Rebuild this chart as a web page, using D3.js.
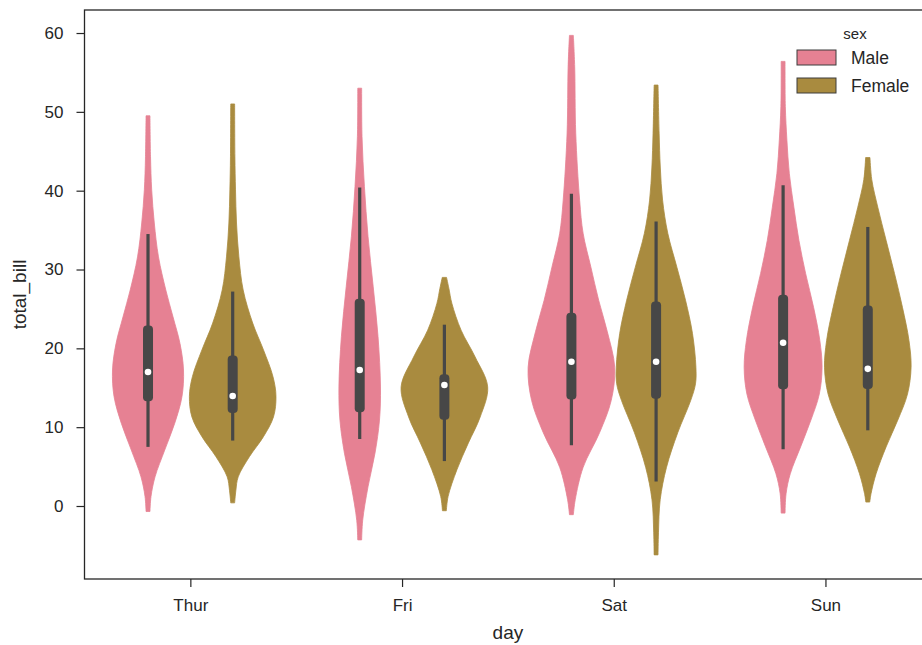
<!DOCTYPE html>
<html>
<head>
<meta charset="utf-8">
<script src="https://cdn.jsdelivr.net/npm/d3@7"></script>
<style>
  html, body { margin: 0; padding: 0; background: #fff; }
  svg { display: block; }
  text { font-family: "Liberation Sans", Arial, sans-serif; fill: #262626; }
</style>
</head>
<body>
<div id="chart"></div>
<script>
// ---------------- data ----------------
const days = ["Thur", "Fri", "Sat", "Sun"];
const sexes = ["Male", "Female"];
const yTicks = [0, 10, 20, 30, 40, 50, 60];

// violin profiles: [total_bill, relative density]
const thurMale = [[49.5,0.045],[44.3,0.058],[40.1,0.085],[35.9,0.145],[31.6,0.242],[27.4,0.411],[24.0,0.577],[20.6,0.739],[17.25,0.82],[13.9,0.785],[10.5,0.617],[7.1,0.386],[3.7,0.162],[1.2,0.069],[-0.7,0.045]];
const thurFemale = [[51.0,0.045],[44.3,0.051],[40.1,0.065],[35.9,0.088],[31.6,0.143],[27.4,0.242],[23.2,0.462],[19.8,0.711],[16.4,0.931],[13.9,1.0],[11.3,0.942],[8.8,0.711],[6.25,0.386],[3.7,0.127],[2.0,0.074],[0.4,0.045]];
const friMale = [[53.0,0.045],[46.9,0.053],[40.5,0.109],[34.2,0.192],[27.8,0.312],[21.5,0.423],[15.1,0.48],[10.9,0.457],[6.7,0.353],[2.45,0.192],[-1.8,0.069],[-4.3,0.045]];
const friFemale = [[29.0,0.05],[27.6,0.104],[25.7,0.173],[22.3,0.386],[18.9,0.711],[15.1,1.0],[11.3,0.827],[8.0,0.554],[4.6,0.289],[1.2,0.085],[-0.6,0.045]];
const satMale = [[59.7,0.045],[55.7,0.076],[47.3,0.1],[38.8,0.19],[34.6,0.27],[30.3,0.45],[26.1,0.63],[22.1,0.83],[17.6,1.0],[13.4,0.92],[9.3,0.65],[4.9,0.27],[0.8,0.088],[-1.1,0.045]];
const satFemale = [[53.4,0.045],[47.3,0.07],[43.0,0.097],[38.8,0.15],[34.6,0.27],[30.3,0.48],[26.1,0.68],[21.9,0.84],[17.6,0.92],[15.5,0.91],[13.4,0.8],[9.3,0.5],[4.9,0.24],[0.8,0.095],[-3.4,0.055],[-6.2,0.045]];
const sunMale = [[56.4,0.045],[50.7,0.051],[46.4,0.088],[42.2,0.143],[37.9,0.249],[33.7,0.365],[29.5,0.52],[25.2,0.704],[21.0,0.848],[17.6,0.9],[14.2,0.836],[10.9,0.642],[7.5,0.404],[4.1,0.166],[1.6,0.069],[-0.9,0.045]];
const sunFemale = [[44.2,0.05],[41.4,0.092],[37.9,0.231],[33.7,0.423],[29.5,0.617],[25.2,0.801],[21.0,0.951],[17.6,1.0],[14.2,0.917],[10.9,0.693],[7.5,0.423],[4.1,0.192],[1.6,0.076],[0.5,0.045]];

// inner boxes: [whisker low, q1, median, q3, whisker high]
const boxThurMale   = [7.5, 13.3, 17.0, 22.9, 34.5];
const boxThurFemale = [8.3, 11.8, 13.95, 19.1, 27.2];
const boxFriMale    = [8.5, 11.9, 17.25, 26.3, 40.4];
const boxFriFemale  = [5.7, 10.95, 15.35, 16.7, 23.0];
const boxSatMale    = [7.7, 13.5, 18.3, 24.5, 39.6];
const boxSatFemale  = [3.1, 13.6, 18.3, 25.95, 36.1];
const boxSunMale    = [7.2, 14.8, 20.7, 26.8, 40.7];
const boxSunFemale  = [9.6, 14.85, 17.4, 25.45, 35.4];

const colors = ["#e68193", "#a98b3f"];

const violins = [
  {day:"Thur", sex:"Male",   prof:thurMale,   box:boxThurMale},
  {day:"Thur", sex:"Female", prof:thurFemale, box:boxThurFemale},
  {day:"Fri",  sex:"Male",   prof:friMale,    box:boxFriMale},
  {day:"Fri",  sex:"Female", prof:friFemale,  box:boxFriFemale},
  {day:"Sat",  sex:"Male",   prof:satMale,    box:boxSatMale},
  {day:"Sat",  sex:"Female", prof:satFemale,  box:boxSatFemale},
  {day:"Sun",  sex:"Male",   prof:sunMale,    box:boxSunMale},
  {day:"Sun",  sex:"Female", prof:sunFemale,  box:boxSunFemale}
];

// ---------------- layout ----------------
const W = 922, H = 645;
const FONT = "'Liberation Sans', Arial, sans-serif";
const svg = d3.select("#chart").append("svg").attr("width", W).attr("height", H);

const x = d3.scaleLinear().domain([-0.5, days.length - 0.5]).range([84.5, 931.3]);
const y = d3.scaleLinear().domain([-9.26, 62.92]).range([579, 10]);
const dodge = d3.scaleOrdinal().domain(sexes).range([-0.2, 0.2]);
const color = d3.scaleOrdinal().domain(sexes).range(colors);
const dens = d3.scaleLinear().domain([0, 1]).range([0, 0.2045]);

// violins
violins.forEach(v => {
  const c = days.indexOf(v.day) + dodge(v.sex);
  const area = d3.area()
    .curve(d3.curveCatmullRom.alpha(0.5))
    .y(p => y(p[0]))
    .x0(p => x(c - dens(p[1])))
    .x1(p => x(c + dens(p[1])));
  svg.append("path")
    .attr("d", area(v.prof))
    .attr("fill", color(v.sex))
    .attr("stroke", color(v.sex))
    .attr("stroke-width", 0.8)
    .attr("stroke-linejoin", "round");

  const cx = x(c);
  const [lo, q1, med, q3, hi] = v.box;
  svg.append("line")
    .attr("x1", cx).attr("x2", cx)
    .attr("y1", y(lo)).attr("y2", y(hi))
    .attr("stroke", "#474747").attr("stroke-width", 3.2);
  svg.append("rect")
    .attr("x", cx - 5).attr("width", 10)
    .attr("y", y(q3)).attr("height", y(q1) - y(q3))
    .attr("rx", 4).attr("ry", 4)
    .attr("fill", "#474747");
  svg.append("circle")
    .attr("cx", cx).attr("cy", y(med)).attr("r", 3.3)
    .attr("fill", "#fff");
});

// frame (spines)
svg.append("rect")
  .attr("x", x.range()[0]).attr("y", y.range()[1])
  .attr("width", x.range()[1] - x.range()[0])
  .attr("height", y.range()[0] - y.range()[1])
  .attr("fill", "none").attr("stroke", "#262626").attr("stroke-width", 1.3);

// y axis
const yAxis = svg.append("g")
  .attr("transform", `translate(${x.range()[0]},0)`)
  .call(d3.axisLeft(y).tickValues(yTicks).tickSize(8).tickPadding(13).tickFormat(d3.format("d")));
yAxis.select(".domain").remove();
yAxis.selectAll(".tick line").attr("stroke", "#262626").attr("stroke-width", 1.2);
yAxis.selectAll(".tick text").style("font-size", "17px").attr("fill", "#262626").style("font-family", FONT);

// x axis
const xAxis = svg.append("g")
  .attr("transform", `translate(0,${y.range()[0]})`)
  .call(d3.axisBottom(x).tickValues(days.map((d, i) => i)).tickSize(8).tickPadding(12)
        .tickFormat(i => days[i]));
xAxis.select(".domain").remove();
xAxis.selectAll(".tick line").attr("stroke", "#262626").attr("stroke-width", 1.2);
xAxis.selectAll(".tick text").style("font-size", "17px").attr("fill", "#262626").style("font-family", FONT);

// axis labels
svg.append("text")
  .attr("x", (x.range()[0] + x.range()[1]) / 2).attr("y", 639)
  .attr("text-anchor", "middle").style("font-size", "19px").text("day");
svg.append("text")
  .attr("transform", `translate(26,${(y.range()[0] + y.range()[1]) / 2}) rotate(-90)`)
  .attr("text-anchor", "middle").style("font-size", "19px").text("total_bill");

// legend
const leg = svg.append("g").attr("transform", "translate(797,0)");
leg.append("text").attr("x", 58).attr("y", 39).attr("text-anchor", "middle")
  .style("font-size", "15px").text("sex");
sexes.forEach((s, i) => {
  const gy = 50 + i * 28;
  leg.append("rect").attr("x", 0).attr("y", gy).attr("width", 39).attr("height", 15)
    .attr("fill", color(s)).attr("stroke", "#3d3d3d").attr("stroke-width", 1);
  leg.append("text").attr("x", 54).attr("y", gy + 14)
    .style("font-size", "17.5px").text(s);
});
</script>
</body>
</html>
